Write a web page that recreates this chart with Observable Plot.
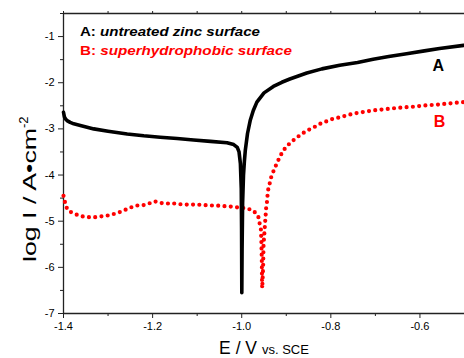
<!DOCTYPE html>
<html>
<head>
<meta charset="utf-8">
<script src="https://cdn.jsdelivr.net/npm/d3@7"></script>
<script src="https://cdn.jsdelivr.net/npm/@observablehq/plot@0.6"></script>
<style>
  html, body { margin: 0; padding: 0; background: #fff; }
  #chart { width: 464px; height: 358px; overflow: hidden; }
  svg { font-family: "Liberation Sans", Arial, sans-serif; }
</style>
</head>
<body>
<div id="chart"></div>
<script>
// Curve A: untreated zinc surface
const E_A = [-1.400, -1.398, -1.395, -1.392, -1.385, -1.377, -1.360, -1.332, -1.300, -1.257,
  -1.220, -1.183, -1.145, -1.108, -1.070, -1.033, -1.018, -1.010, -1.006, -1.003,
  -1.001, -1.0003, -0.9998, -0.9992, -0.998, -0.996, -0.994, -0.992, -0.987, -0.981,
  -0.974, -0.966, -0.950, -0.929, -0.910, -0.892, -0.854, -0.820, -0.780, -0.740,
  -0.705, -0.670, -0.630, -0.590, -0.556, -0.502];
const logI_A = [-2.64, -2.74, -2.79, -2.82, -2.86, -2.89, -2.93, -3.00, -3.05, -3.11,
  -3.15, -3.18, -3.21, -3.24, -3.27, -3.30, -3.34, -3.40, -3.50, -3.75,
  -4.30, -5.20, -6.55, -5.60, -4.60, -4.00, -3.70, -3.47, -3.10, -2.82,
  -2.60, -2.42, -2.22, -2.08, -1.99, -1.92, -1.79, -1.70, -1.62, -1.56,
  -1.49, -1.43, -1.37, -1.31, -1.26, -1.19];

// Curve B: superhydrophobic surface
const E_B = [-1.400, -1.398, -1.396, -1.390, -1.375, -1.362, -1.348, -1.334, -1.321, -1.307,
  -1.293, -1.278, -1.265, -1.251, -1.237, -1.223, -1.209, -1.195, -1.184, -1.171,
  -1.156, -1.142, -1.128, -1.115, -1.100, -1.086, -1.072, -1.058, -1.045, -1.030,
  -1.017, -1.003, -0.989, -0.974, -0.963, -0.960, -0.957, -0.956, -0.955, -0.9545,
  -0.954, -0.952, -0.951, -0.949, -0.948, -0.947, -0.946, -0.945, -0.943, -0.942,
  -0.940, -0.936, -0.933, -0.927, -0.921, -0.914, -0.907, -0.895, -0.882, -0.867,
  -0.854, -0.839, -0.824, -0.811, -0.795, -0.780, -0.765, -0.750, -0.705, -0.675,
  -0.645, -0.615, -0.585, -0.556, -0.526, -0.502];
const logI_B = [-4.45, -4.50, -4.64, -4.77, -4.84, -4.89, -4.91, -4.92, -4.90, -4.89,
  -4.86, -4.82, -4.77, -4.71, -4.66, -4.66, -4.62, -4.57, -4.60, -4.62,
  -4.61, -4.63, -4.64, -4.64, -4.64, -4.65, -4.66, -4.66, -4.67, -4.68,
  -4.69, -4.71, -4.72, -4.77, -4.89, -5.04, -5.17, -5.40, -5.80, -6.20,
  -6.45, -6.00, -5.50, -5.24, -5.10, -4.96, -4.83, -4.69, -4.56, -4.43,
  -4.28, -4.14, -4.01, -3.88, -3.74, -3.60, -3.47, -3.34, -3.23, -3.12,
  -3.04, -2.97, -2.89, -2.84, -2.78, -2.75, -2.71, -2.67, -2.60, -2.57,
  -2.54, -2.52, -2.49, -2.47, -2.44, -2.42];

const xMajor = [-1.4, -1.2, -1.0, -0.8, -0.6];
const xMinor = [-1.3, -1.1, -0.9, -0.7, -0.5];
const yMajor = [-7, -6, -5, -4, -3, -2, -1];
const yMinor = [-6.5, -5.5, -4.5, -3.5, -2.5, -1.5, -0.5];
const xTickLabels = ["-1.4", "-1.2", "-1.0", "-0.8", "-0.6"];
const yTickLabels = ["-7", "-6", "-5", "-4", "-3", "-2", "-1"];

const seriesA = E_A.map((e, i) => ({E: e, logI: logI_A[i]}));
const seriesB = E_B.map((e, i) => ({E: e, logI: logI_B[i]}));

const axisColor = "#222";
const plot = Plot.plot({
  width: 464,
  height: 358,
  marginLeft: 63,
  marginRight: 0,
  marginTop: 13,
  marginBottom: 45,
  style: {fontFamily: "'Liberation Sans', Arial, sans-serif", fontSize: "11px", color: "#000", background: "#fff"},
  x: {domain: [-1.4, -0.5]},
  y: {domain: [-7, -0.5]},
  marks: [
    Plot.axisX({ticks: xMajor, tickSize: 5, tickPadding: 4, stroke: axisColor,
      tickFormat: (d, i) => xTickLabels[i], label: null, fontSize: 11}),
    Plot.axisX({ticks: xMinor, tickSize: 3, tickFormat: () => "", stroke: axisColor, label: null}),
    Plot.axisX({anchor: "top", ticks: xMajor.concat(xMinor), tickSize: 3, tickFormat: () => "", stroke: axisColor, label: null}),
    Plot.axisY({ticks: yMajor, tickSize: 5, tickPadding: 4, stroke: axisColor,
      tickFormat: (d, i) => yTickLabels[i], label: null, fontSize: 11}),
    Plot.axisY({ticks: yMinor, tickSize: 3, tickFormat: () => "", stroke: axisColor, label: null}),
    Plot.ruleY([-7], {stroke: axisColor, strokeWidth: 1.3}),
    Plot.ruleY([-0.5], {stroke: axisColor, strokeWidth: 1.3}),
    Plot.ruleX([-1.4], {stroke: axisColor, strokeWidth: 1.3}),
    Plot.line(seriesB, {x: "E", y: "logI", stroke: "#ff0000", strokeWidth: 4.2,
      strokeDasharray: "0 6.3", strokeLinecap: "round", strokeLinejoin: "round", curve: "linear"}),
    Plot.line(seriesA, {x: "E", y: "logI", stroke: "#000", strokeWidth: 3.6,
      strokeLinejoin: "round", strokeLinecap: "round", curve: "linear"})
  ]
});
document.getElementById("chart").appendChild(plot);

const svg = d3.select(plot);
const sx = plot.scale("x"), sy = plot.scale("y");
const font = "'Liberation Sans', Arial, sans-serif";

// Legend text
const leg = [
  {key: "A: ", txt: "untreated zinc surface", color: "#000", E: -1.362, y: 36, len: 180},
  {key: "B: ", txt: "superhydrophobic surface", color: "#ff0000", E: -1.362, y: 55, len: 212}
];
leg.forEach(l => {
  const t = svg.append("text")
    .attr("x", sx.apply(l.E)).attr("y", l.y).attr("text-anchor", "start")
    .attr("font-family", font).attr("font-size", 13.5).attr("font-weight", "bold")
    .attr("textLength", l.len).attr("lengthAdjust", "spacingAndGlyphs")
    .attr("fill", l.color);
  t.append("tspan").text(l.key);
  t.append("tspan").attr("font-style", "italic").text(l.txt);
});

// Curve labels
[{s: "A", color: "#000", E: -0.558, v: -1.63}, {s: "B", color: "#ff0000", E: -0.555, v: -2.84}].forEach(l => {
  svg.append("text")
    .attr("x", sx.apply(l.E)).attr("y", sy.apply(l.v))
    .attr("text-anchor", "middle").attr("dominant-baseline", "central")
    .attr("font-family", font).attr("font-size", 16).attr("font-weight", "bold")
    .attr("fill", l.color).text(l.s);
});

// X axis title
const xt = svg.append("text")
  .attr("x", 264).attr("y", 353.5).attr("text-anchor", "middle")
  .attr("font-family", font).attr("fill", "#000");
xt.append("tspan").attr("font-size", 17.5).text("E / V ");
xt.append("tspan").attr("font-size", 13).text("vs. SCE");

// Y axis title
const yt = svg.append("text")
  .attr("transform", "translate(36,262) rotate(-90)").attr("text-anchor", "start")
  .attr("font-family", font).attr("font-size", 18).attr("fill", "#000");
yt.append("tspan").attr("textLength", 134).attr("lengthAdjust", "spacingAndGlyphs").text("log I / A•cm");
yt.append("tspan").attr("font-size", 13).attr("dy", -8).text("-2");
</script>
</body>
</html>
